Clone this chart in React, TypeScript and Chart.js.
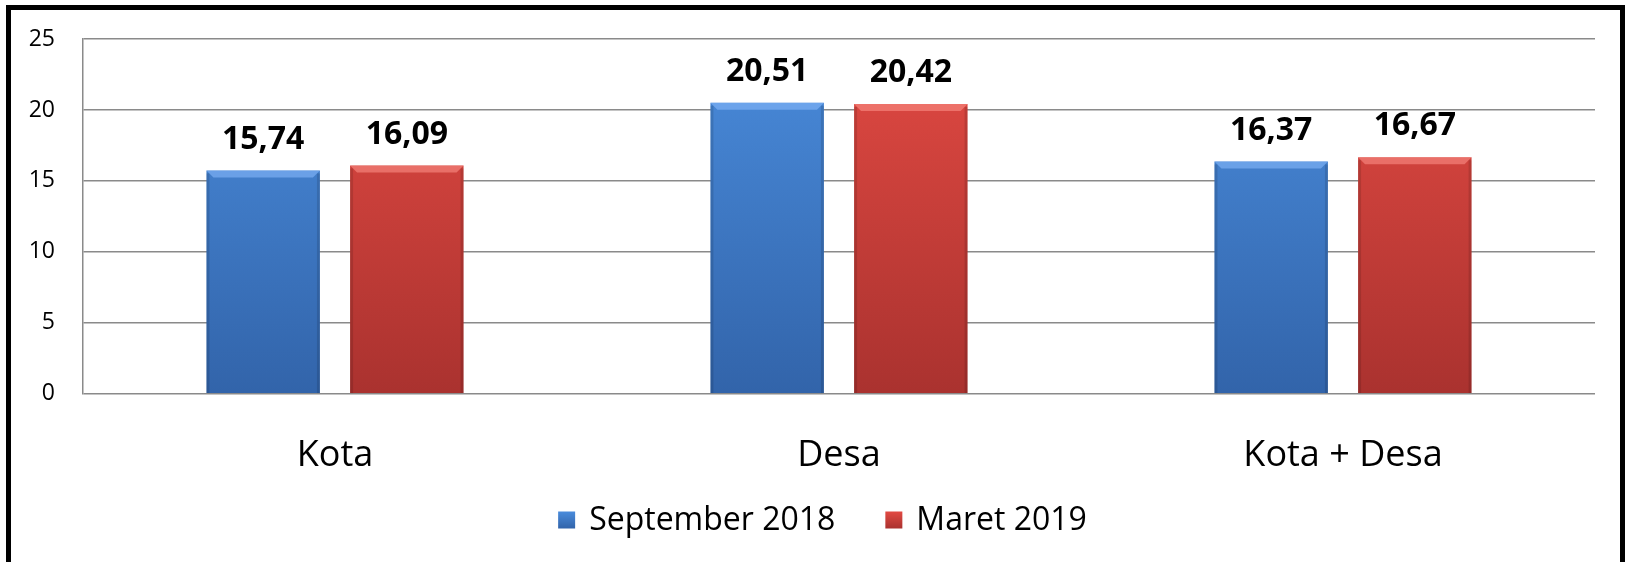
import React, { useEffect, useRef } from 'react';
import { Chart, registerables } from 'chart.js';

Chart.register(...registerables);

const categories = ['Kota', 'Desa', 'Kota + Desa'];
const september2018 = [15.74, 20.51, 16.37];
const maret2019 = [16.09, 20.42, 16.67];
const seriesNames = ['September 2018', 'Maret 2019'];
const yMin = 0;
const yMax = 25;
const yStep = 5;

const FONT = '"Open Sans", "DejaVu Sans", sans-serif';
const GRID = '#8a8a8a';

const seriesColors = [
  { top: '#4a8cdc', bottom: '#3264aa', legend: '#3d7bcc', light: 'rgba(140,190,255,0.55)' },
  { top: '#e24a43', bottom: '#aa322f', legend: '#cc3d37', light: 'rgba(255,150,140,0.55)' },
];

const fmt = (v: number) => v.toFixed(2).replace('.', ',');

const makeGradient = (chart: any, idx: number) => {
  const area = chart.chartArea;
  if (!area) return seriesColors[idx].legend;
  const g = chart.ctx.createLinearGradient(0, area.top, 0, area.bottom);
  g.addColorStop(0, seriesColors[idx].top);
  g.addColorStop(1, seriesColors[idx].bottom);
  return g;
};

const decorPlugin = {
  id: 'decor',
  afterDatasetsDraw(chart: any) {
    const ctx = chart.ctx;
    ctx.save();
    chart.data.datasets.forEach((ds: any, di: number) => {
      const meta = chart.getDatasetMeta(di);
      meta.data.forEach((bar: any, i: number) => {
        const { x, y, base, width } = bar.getProps(['x', 'y', 'base', 'width'], true);
        const l = x - width / 2;
        const r = x + width / 2;
        ctx.fillStyle = seriesColors[di].light;
        ctx.beginPath();
        ctx.moveTo(l, y);
        ctx.lineTo(r, y);
        ctx.lineTo(r - 7, y + 7);
        ctx.lineTo(l + 7, y + 7);
        ctx.closePath();
        ctx.fill();
        ctx.fillStyle = 'rgba(0,0,0,0.12)';
        ctx.fillRect(l, y + 3, 3, base - y - 3);
        ctx.fillRect(r - 3, y + 3, 3, base - y - 3);
        ctx.fillStyle = '#000';
        ctx.font = `bold 32px ${FONT}`;
        ctx.textAlign = 'center';
        ctx.textBaseline = 'middle';
        ctx.fillText(fmt(ds.data[i]), x, y - 31);
      });
    });

    ctx.font = `32px ${FONT}`;
    ctx.textBaseline = 'middle';
    ctx.textAlign = 'left';
    const box = 17;
    const gapText = 14;
    const gapItem = 50;
    const widths = seriesNames.map((n) => ctx.measureText(n).width);
    const total = widths.reduce((a, w) => a + box + gapText + w, 0) + gapItem * (seriesNames.length - 1);
    let cx = 811.5 - total / 2;
    const cy = 510;
    seriesNames.forEach((n, i) => {
      const g = ctx.createLinearGradient(0, cy - box / 2, 0, cy + box / 2);
      g.addColorStop(0, seriesColors[i].top);
      g.addColorStop(1, seriesColors[i].bottom);
      ctx.fillStyle = g;
      ctx.fillRect(cx, cy - box / 2, box, box);
      ctx.fillStyle = '#000';
      ctx.fillText(n, cx + box + gapText, cy + 1);
      cx += box + gapText + widths[i] + gapItem;
    });
    ctx.restore();
  },
};

export default function App() {
  const ref = useRef<HTMLCanvasElement | null>(null);

  useEffect(() => {
    if (!ref.current) return;
    const chart = new Chart(ref.current, {
      type: 'bar',
      data: {
        labels: categories,
        datasets: [
          {
            label: seriesNames[0],
            data: september2018,
            backgroundColor: (c: any) => makeGradient(c.chart, 0),
            borderWidth: 0,
            categoryPercentage: 0.57,
            barPercentage: 0.79,
          },
          {
            label: seriesNames[1],
            data: maret2019,
            backgroundColor: (c: any) => makeGradient(c.chart, 1),
            borderWidth: 0,
            categoryPercentage: 0.57,
            barPercentage: 0.79,
          },
        ],
      },
      options: {
        responsive: false,
        animation: false,
        layout: { padding: { left: 0, top: 29, right: 25, bottom: 45 } },
        plugins: {
          legend: { display: false },
          tooltip: { enabled: false },
        },
        scales: {
          x: {
            grid: { display: false, drawTicks: false },
            border: { display: false },
            ticks: {
              color: '#000',
              padding: 40,
              font: { family: FONT, size: 36 },
            },
          },
          y: {
            min: yMin,
            max: yMax,
            afterFit: (scale: any) => {
              scale.width = 72;
              scale.paddingTop = 0;
              scale.paddingBottom = 0;
            },
            grid: { color: GRID, lineWidth: 1.5, drawTicks: false },
            border: { display: true, color: GRID, width: 1.5 },
            ticks: {
              stepSize: yStep,
              color: '#000',
              padding: 28,
              font: { family: FONT, size: 23 },
            },
          },
        },
      },
      plugins: [decorPlugin],
    });
    return () => chart.destroy();
  }, []);

  return (
    <div
      style={{
        position: 'fixed',
        left: 6,
        top: 5,
        width: 1619,
        height: 640,
        border: '5px solid #000',
        boxSizing: 'border-box',
        background: '#fff',
      }}
    >
      <canvas ref={ref} width={1609} height={552} style={{ display: 'block' }} />
    </div>
  );
}
